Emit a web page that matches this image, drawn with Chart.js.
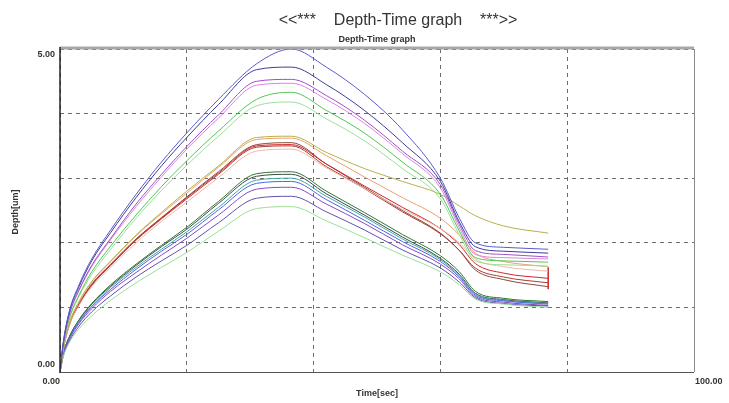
<!DOCTYPE html>
<html>
<head>
<meta charset="utf-8">
<title>Depth-Time graph</title>
<script src="https://cdn.jsdelivr.net/npm/chart.js@4.4.1/dist/chart.umd.min.js"></script>
<style>
  html, body { margin: 0; padding: 0; background: #fff; }
  #wrap { width: 729px; height: 403px; }
</style>
</head>
<body>
<div id="wrap"><canvas id="depthChart" width="729" height="403"></canvas></div>
<script>
'use strict';

/* ── DATA ───────────────────────────────────────────────────── */
// sample times [sec], shared by every curve
const times = [0, 0.5, 1.5, 3, 5, 8, 12, 16, 20, 25, 31, 36.5, 42, 48, 54, 60, 63, 65.5, 70, 77];

// depth [um] per curve — upper group
const blueTop    = [0, 0.45, 0.95, 1.35, 1.75, 2.20, 2.75, 3.25, 3.70, 4.22, 4.77, 5.00, 4.72, 4.30, 3.75, 3.00, 2.38, 2.00, 1.93, 1.90];
const navy       = [0, 0.44, 0.94, 1.32, 1.72, 2.16, 2.70, 3.19, 3.63, 4.14, 4.68, 4.72, 4.45, 4.05, 3.55, 2.95, 2.32, 1.94, 1.87, 1.84];
const violet     = [0, 0.42, 0.90, 1.27, 1.65, 2.07, 2.60, 3.06, 3.49, 3.98, 4.50, 4.53, 4.28, 3.90, 3.42, 2.90, 2.28, 1.88, 1.82, 1.78];
const pink       = [0, 0.42, 0.89, 1.26, 1.63, 2.05, 2.56, 3.02, 3.45, 3.93, 4.44, 4.47, 4.22, 3.85, 3.38, 2.85, 2.23, 1.82, 1.77, 1.75];
const green      = [0, 0.40, 0.84, 1.19, 1.55, 1.95, 2.43, 2.87, 3.27, 3.73, 4.22, 4.33, 4.05, 3.70, 3.25, 2.75, 2.18, 1.77, 1.72, 1.70];
const lightGreen = [0, 0.39, 0.82, 1.17, 1.51, 1.90, 2.38, 2.81, 3.20, 3.65, 4.12, 4.18, 3.92, 3.58, 3.15, 2.68, 2.12, 1.72, 1.66, 1.64];

// middle group
const olive      = [0, 0.36, 0.76, 1.09, 1.40, 1.72, 2.12, 2.47, 2.80, 3.19, 3.63, 3.65, 3.40, 3.15, 2.95, 2.75, 2.57, 2.42, 2.26, 2.15];
const orange     = [0, 0.36, 0.76, 1.08, 1.39, 1.71, 2.11, 2.45, 2.77, 3.17, 3.60, 3.62, 3.35, 3.02, 2.70, 2.38, 2.12, 1.84, 1.71, 1.63];
const salmon     = [0, 0.34, 0.72, 1.03, 1.32, 1.62, 2.00, 2.33, 2.63, 3.01, 3.42, 3.45, 3.16, 2.84, 2.52, 2.22, 2.00, 1.75, 1.63, 1.56];
const red        = [0, 0.35, 0.74, 1.05, 1.35, 1.66, 2.05, 2.38, 2.70, 3.08, 3.50, 3.52, 3.22, 2.88, 2.55, 2.22, 1.97, 1.68, 1.53, 1.45];
const brown      = [0, 0.35, 0.74, 1.06, 1.36, 1.67, 2.06, 2.39, 2.71, 3.10, 3.52, 3.55, 3.22, 2.86, 2.50, 2.15, 1.88, 1.58, 1.43, 1.32];
const darkRed    = [0, 0.35, 0.73, 1.04, 1.34, 1.65, 2.04, 2.37, 2.68, 3.06, 3.48, 3.50, 3.18, 2.84, 2.48, 2.14, 1.88, 1.61, 1.47, 1.38];

// lower group
const darkGreen  = [0, 0.28, 0.55, 0.81, 1.06, 1.35, 1.67, 1.96, 2.24, 2.64, 3.07, 3.10, 2.80, 2.47, 2.13, 1.80, 1.55, 1.25, 1.14, 1.09];
const slate      = [0, 0.27, 0.55, 0.80, 1.05, 1.33, 1.65, 1.94, 2.21, 2.61, 3.03, 3.06, 2.76, 2.43, 2.09, 1.76, 1.51, 1.22, 1.12, 1.07];
const teal       = [0, 0.27, 0.53, 0.79, 1.02, 1.31, 1.62, 1.90, 2.17, 2.55, 2.97, 3.00, 2.72, 2.40, 2.06, 1.74, 1.49, 1.21, 1.11, 1.06];
const blue       = [0, 0.26, 0.53, 0.77, 1.01, 1.28, 1.59, 1.87, 2.13, 2.51, 2.92, 2.95, 2.67, 2.35, 2.02, 1.71, 1.47, 1.19, 1.10, 1.05];
const purple     = [0, 0.25, 0.51, 0.75, 0.98, 1.25, 1.54, 1.81, 2.07, 2.43, 2.83, 2.86, 2.60, 2.30, 1.97, 1.67, 1.44, 1.17, 1.08, 1.03];
const indigo     = [0, 0.24, 0.48, 0.71, 0.93, 1.18, 1.47, 1.72, 1.96, 2.31, 2.69, 2.72, 2.48, 2.20, 1.89, 1.61, 1.39, 1.15, 1.06, 1.02];
const paleGreen  = [0, 0.23, 0.46, 0.67, 0.87, 1.11, 1.38, 1.62, 1.85, 2.18, 2.53, 2.56, 2.34, 2.08, 1.81, 1.55, 1.35, 1.13, 1.05, 1.00];

// short vertical stroke at the end of the red curve
const redTickT = [77, 77];
const redTickV = [1.62, 1.28];

// axis range / tick labels
const xRange = [0, 100];
const yRange = [0, 5];
const xTickLabels = ['0.00', '100.00'];
const yTickLabels = ['0.00', '5.00'];

/* ── SERIES → DATASETS ──────────────────────────────────────── */
const series = [
  [blueTop, '#5a5ad0'], [navy, '#3c3c98'], [violet, '#a050c8'], [pink, '#d688dc'],
  [green, '#50c850'], [lightGreen, '#98e098'],
  [olive, '#b8b048'], [orange, '#e8a070'], [salmon, '#f2b8a8'],
  [red, '#d02828'], [brown, '#8a4a3a'], [darkRed, '#a83c3c'],
  [paleGreen, '#98e098'], [indigo, '#6050b0'], [purple, '#8848c8'], [blue, '#4868e0'],
  [teal, '#40a8a8'], [slate, '#404848'], [darkGreen, '#307830'],
];

const toPoints = (xs, ys) => xs.map((t, i) => ({ x: t, y: ys[i] }));

const datasets = series.map(([vals, color]) => ({
  data: toPoints(times, vals),
  borderColor: color,
  borderWidth: 1,
  pointRadius: 0,
  fill: false,
  cubicInterpolationMode: 'monotone',
}));

datasets.push({
  data: toPoints(redTickT, redTickV),
  borderColor: '#d02828',
  borderWidth: 1.5,
  pointRadius: 0,
  tension: 0,
});

/* ── TEXT + FRAME OVERLAY ───────────────────────────────────── */
const overlay = {
  id: 'overlay',
  afterDraw(chart) {
    const { ctx, chartArea: a, scales: { x, y } } = chart;
    ctx.save();

    // frame
    ctx.strokeStyle = '#a8a8a8';
    ctx.lineWidth = 3;
    ctx.beginPath(); ctx.moveTo(a.left, a.top - 1); ctx.lineTo(a.right, a.top - 1); ctx.stroke();
    ctx.strokeStyle = '#8c8c8c';
    ctx.lineWidth = 1;
    ctx.beginPath(); ctx.moveTo(a.right + 0.5, a.top); ctx.lineTo(a.right + 0.5, a.bottom); ctx.stroke();
    ctx.strokeStyle = '#555';
    ctx.beginPath(); ctx.moveTo(a.left, a.bottom + 0.5); ctx.lineTo(a.right, a.bottom + 0.5); ctx.stroke();
    ctx.strokeStyle = '#222';
    ctx.lineWidth = 1.5;
    ctx.beginPath(); ctx.moveTo(a.left, a.top - 2); ctx.lineTo(a.left, a.bottom + 1); ctx.stroke();

    ctx.fillStyle = '#333';
    ctx.textBaseline = 'middle';

    // title + subtitle
    ctx.font = '16px "Liberation Sans", Arial, sans-serif';
    ctx.textAlign = 'center';
    ctx.fillText('<<***    Depth-Time graph    ***>>', 398, 21);
    ctx.font = 'bold 9px "Liberation Sans", Arial, sans-serif';
    ctx.fillText('Depth-Time graph', 377, 40);

    // tick labels
    ctx.font = 'bold 9px "Liberation Sans", Arial, sans-serif';
    ctx.textAlign = 'right';
    ctx.fillText(yTickLabels[1], a.left - 5, y.getPixelForValue(yRange[1]) + 6);
    ctx.fillText(yTickLabels[0], a.left - 5, y.getPixelForValue(yRange[0]) - 7);
    ctx.fillText(xTickLabels[0], x.getPixelForValue(xRange[0]), a.bottom + 10);
    ctx.textAlign = 'left';
    ctx.fillText(xTickLabels[1], x.getPixelForValue(xRange[1]) + 1, a.bottom + 10);

    // axis titles
    ctx.textAlign = 'center';
    ctx.fillText('Time[sec]', 377, 394);
    ctx.translate(16, 212);
    ctx.rotate(-Math.PI / 2);
    ctx.fillText('Depth[um]', 0, 0);

    ctx.restore();
  }
};

/* ── CHART ──────────────────────────────────────────────────── */
const gridOpts = { color: '#6e6e6e', lineWidth: 1, drawTicks: false };
const borderOpts = { display: false, dash: [4, 4] };

new Chart(document.getElementById('depthChart'), {
  type: 'line',
  data: { datasets },
  options: {
    responsive: false,
    animation: false,
    layout: { padding: { left: 60, top: 49, right: 35, bottom: 31 } },
    plugins: { legend: { display: false }, tooltip: { enabled: false } },
    scales: {
      x: {
        type: 'linear', min: xRange[0], max: xRange[1],
        ticks: { display: false, stepSize: 20 },
        grid: gridOpts, border: borderOpts,
      },
      y: {
        type: 'linear', min: yRange[0], max: yRange[1],
        ticks: { display: false, stepSize: 1 },
        grid: gridOpts, border: borderOpts,
      }
    }
  },
  plugins: [overlay]
});
</script>
</body>
</html>
